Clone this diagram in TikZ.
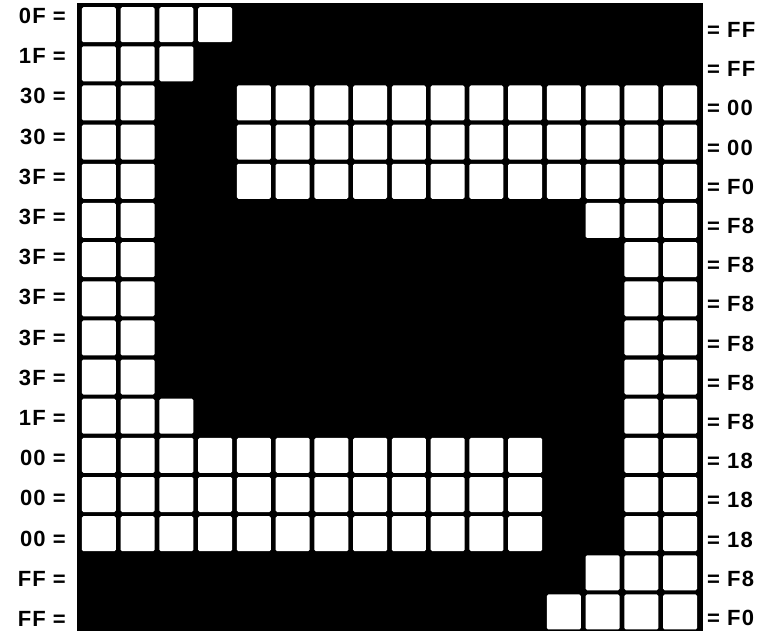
\documentclass[tikz,border=0pt]{standalone}
\usepackage{fontspec}
\setmainfont{Liberation Sans}
\newfontfamily\labfont[LetterSpace=5]{Liberation Sans}
\begin{document}
\begin{tikzpicture}[x=1pt,y=-1pt,
  cell/.style={fill=white,draw=none,rounded corners=1.5pt,inner sep=0pt,minimum width=34pt,minimum height=35pt,anchor=north west},
  lab/.style={inner sep=0pt,font=\labfont\fontsize{22}{24}\selectfont\bfseries},
  llab/.style={lab,anchor=east},
  rlab/.style={lab,anchor=west}]
\useasboundingbox (0,0) rectangle (780,634);
\fill[black] (77,3) rectangle (703,631);
\foreach \r/\cols in {0/{0,1,2,3},1/{0,1,2},2/{0,1,4,5,...,15},3/{0,1,4,5,...,15},4/{0,1,4,5,...,15},
  5/{0,1,13,14,15},6/{0,1,14,15},7/{0,1,14,15},8/{0,1,14,15},9/{0,1,14,15},10/{0,1,2,14,15},
  11/{0,1,...,11,14,15},12/{0,1,...,11,14,15},13/{0,1,...,11,14,15},14/{13,14,15},15/{12,13,14,15}}{
  \foreach \c in \cols {
    \node[cell] (cell-\r-\c) at ({81.7+\c*38.75},{7+\r*39.15}) {};
  }
}
\foreach \r/\t in {0/0F,1/1F,2/30,3/30,4/3F,5/3F,6/3F,7/3F,8/3F,9/3F,10/1F,11/00,12/00,13/00,14/FF,15/FF}{
  \node[llab] (left-\r) at (66,{16+\r*40.2}) {\t{} =};
}
\foreach \r/\t in {0/FF,1/FF,2/00,3/00,4/F0,5/F8,6/F8,7/F8,8/F8,9/F8,10/F8,11/18,12/18,13/18,14/F8,15/F0}{
  \node[rlab] (right-\r) at (707,{30+\r*39.2}) {= \t};
}
\end{tikzpicture}
\end{document}
